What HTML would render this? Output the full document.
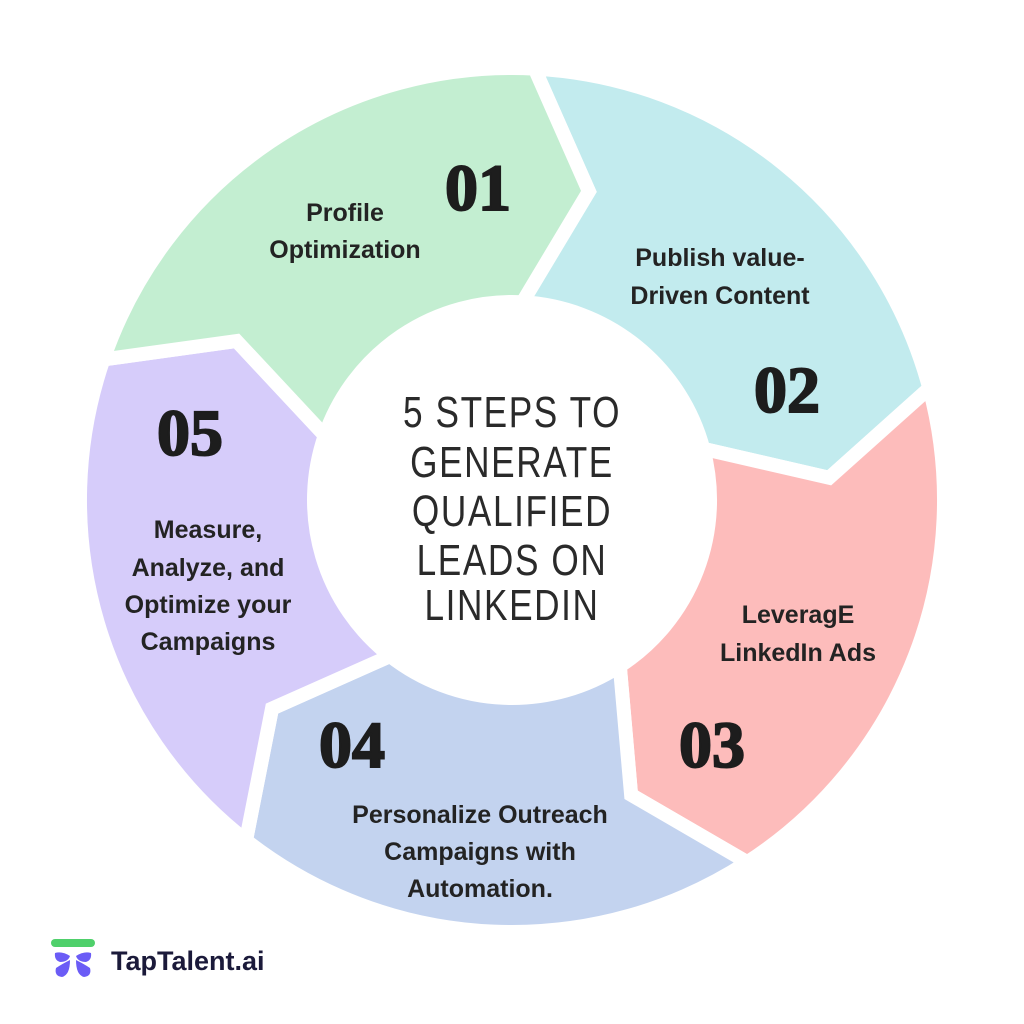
<!DOCTYPE html>
<html><head><meta charset="utf-8">
<style>
html,body{margin:0;padding:0;background:#fff;}
svg{display:block}
.lab{font-family:"Liberation Sans",sans-serif;font-weight:bold;font-size:25px;fill:#232323;text-anchor:middle}
.num{font-family:"Liberation Serif",serif;font-weight:bold;font-size:66px;fill:#1d1d1d;text-anchor:middle;stroke:#1d1d1d;stroke-width:2}
.ttl{font-family:"Liberation Sans",sans-serif;font-size:44px;fill:#2a2a2a;text-anchor:middle;letter-spacing:2px}
</style></head>
<body>
<svg id="s" width="1024" height="1024" viewBox="0 0 1024 1024" xmlns="http://www.w3.org/2000/svg">
<g id="segs"></g>
<circle cx="512" cy="505" r="192" fill="#fff"/>
<g transform="translate(512,0) scale(0.8,1)">
<text class="ttl" x="0" y="427">5 STEPS TO</text>
<text class="ttl" x="0" y="477">GENERATE</text>
<text class="ttl" x="0" y="526">QUALIFIED</text>
<text class="ttl" x="0" y="575">LEADS ON</text>
<text class="ttl" x="0" y="620">LINKEDIN</text>
</g>
<text class="num" x="478" y="210">01</text>
<text class="num" x="787" y="412">02</text>
<text class="num" x="712" y="767">03</text>
<text class="num" x="352" y="767">04</text>
<text class="num" x="190" y="455">05</text>
<text class="lab" x="345" y="221">Profile</text>
<text class="lab" x="345" y="258">Optimization</text>
<text class="lab" x="720" y="266">Publish value-</text>
<text class="lab" x="720" y="304">Driven Content</text>
<text class="lab" x="798" y="623">LeveragE</text>
<text class="lab" x="798" y="661">LinkedIn Ads</text>
<text class="lab" x="480" y="823">Personalize Outreach</text>
<text class="lab" x="480" y="860">Campaigns with</text>
<text class="lab" x="480" y="897">Automation.</text>
<text class="lab" x="208" y="538">Measure,</text>
<text class="lab" x="208" y="576">Analyze, and</text>
<text class="lab" x="208" y="613">Optimize your</text>
<text class="lab" x="208" y="650">Campaigns</text>
<rect x="51" y="939" width="44" height="8" rx="4" fill="#4fd06b"/>
<g fill="#6b5cf6">
<path d="M55 953 Q62 951 70 956 Q68 962 60 962 Q54 960 55 953Z"/>
<path d="M91 953 Q84 951 76 956 Q78 962 86 962 Q92 960 91 953Z"/>
<path d="M70 960 Q62 964 56 968 Q54 976 62 977 Q70 975 70 960Z"/>
<path d="M76 960 Q84 964 90 968 Q92 976 84 977 Q76 975 76 960Z"/>
</g>
<text x="111" y="970" font-family="Liberation Sans,sans-serif" font-weight="bold" font-size="27" fill="#1b1a3a">TapTalent.ai</text>
</svg>
<script>
(function(){
var cx=512,cy=500,R=432,r=198,M=318,d=11;
var b=[3,75,147,218,289,363];
var cols=["#c2ebee","#fdbcbb","#c3d3ef","#d6ccfa","#c3eed1"];
function p(rad,a){a=a*Math.PI/180;return (cx+rad*Math.sin(a)).toFixed(1)+" "+(cy-rad*Math.cos(a)).toFixed(1);}
var g=document.getElementById("segs"),h="";
for(var i=0;i<5;i++){
var s=b[i],e=b[i+1];
var dd="M"+p(R,s)+" A"+R+" "+R+" 0 0 1 "+p(R,e)+" L"+p(M,e+d)+" L"+p(r,e)+" A"+r+" "+r+" 0 0 0 "+p(r,s)+" L"+p(M,s+d)+" Z";
h+='<path d="'+dd+'" fill="'+cols[i]+'" stroke="#fff" stroke-width="14" stroke-linejoin="miter"/>';
}
g.innerHTML=h;
})();
</script>
</body></html>
